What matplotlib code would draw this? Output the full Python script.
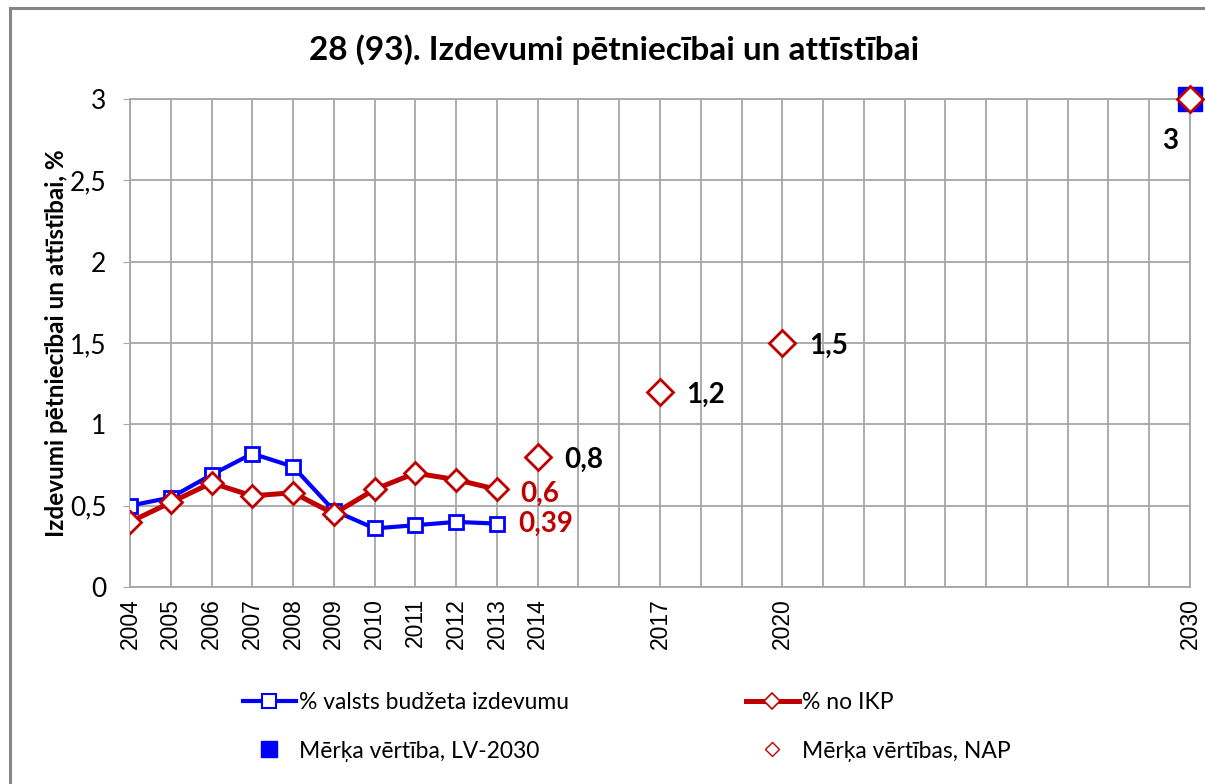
import matplotlib.pyplot as plt
from matplotlib.lines import Line2D
from matplotlib.patches import Rectangle

# data
years = list(range(2004, 2031))
shown_years = [2004, 2005, 2006, 2007, 2008, 2009, 2010, 2011, 2012, 2013, 2014, 2017, 2020, 2030]
hist_years = [2004, 2005, 2006, 2007, 2008, 2009, 2010, 2011, 2012, 2013]
budget_share = [0.50, 0.55, 0.69, 0.82, 0.74, 0.47, 0.36, 0.38, 0.40, 0.39]
gdp_share = [0.40, 0.52, 0.64, 0.56, 0.58, 0.45, 0.60, 0.70, 0.66, 0.60]
nap_years = [2014, 2017, 2020, 2030]
nap_targets = [0.8, 1.2, 1.5, 3]
lv_years = [2030]
lv_targets = [3]

title = "28 (93). Izdevumi pētniecībai un attīstībai"
ylabel = "Izdevumi pētniecībai un attīstībai, %"

BLUE = "#0000ff"
RED = "#c00000"
GRID = "#a6a6a6"
CAL = "Lato"

def pos(yrs):
    return [y - years[0] for y in yrs]

def fmt(v):
    return ("%g" % v).replace(".", ",")

fig = plt.figure(figsize=(12.05, 7.84), dpi=100)
ax = fig.add_axes([130 / 1205, 1 - 587 / 784, 1060 / 1205, 488 / 784])

# outer frame of the chart
fig.patches.append(Rectangle((10 / 1205, -0.05), 1.1, 1 - 8 / 784 + 0.05, transform=fig.transFigure,
                             fill=False, edgecolor="#868686", linewidth=2.2))

ax.plot(pos(hist_years), budget_share, color=BLUE, lw=3, marker="s", ms=10,
        mfc="white", mec=BLUE, mew=2, zorder=3)
ax.plot(pos(hist_years), gdp_share, color=RED, lw=3.6, marker="D", ms=11,
        mfc="white", mec=RED, mew=2, zorder=4)
ax.plot(pos(lv_years), lv_targets, ls="none", marker="s", ms=17, color=BLUE,
        clip_on=False, zorder=5)
ax.plot(pos(nap_years), nap_targets, ls="none", marker="D", ms=13, mfc="white",
        mec=RED, mew=2, clip_on=False, zorder=6)

# data labels
lab = dict(textcoords="offset points", fontsize=20, fontweight="bold", family=CAL, va="center")
ax.annotate(fmt(gdp_share[-1]), (pos(hist_years)[-1], gdp_share[-1]), xytext=(17, -3),
            color=RED, ha="left", **lab)
ax.annotate(fmt(budget_share[-1]), (pos(hist_years)[-1], budget_share[-1]), xytext=(15, 0),
            color=RED, ha="left", **lab)
for yr, v in zip(nap_years[:-1], nap_targets[:-1]):
    ax.annotate(fmt(v), (pos([yr])[0], v), xytext=(19, -2), color="black", ha="left", **lab)
ax.annotate(fmt(nap_targets[-1]), (pos(nap_years)[-1], nap_targets[-1]), xytext=(-14, -30),
            color="black", ha="center", **lab)

ax.set_xlim(0, len(years) - 1)
ax.set_ylim(0, 3)
ax.set_xticks(range(len(years)))
ax.set_xticklabels([str(y) if y in shown_years else "" for y in years],
                   rotation=90, family="Liberation Sans", fontsize=16.5)
ax.set_yticks([0, 0.5, 1, 1.5, 2, 2.5, 3])
ax.set_yticklabels([fmt(v) for v in [0, 0.5, 1, 1.5, 2, 2.5, 3]], family=CAL, fontsize=19)
ax.tick_params(axis="x", length=0, pad=8)
ax.tick_params(axis="y", length=5, color=GRID, pad=12)
ax.grid(True, color=GRID, lw=1.3)
ax.set_axisbelow(True)
for s in ax.spines.values():
    s.set_color(GRID)
    s.set_linewidth(1.3)

ax.set_ylabel(ylabel, family=CAL, fontsize=17.5, fontweight="bold")
ax.yaxis.set_label_coords((68 - 130) / 1060, 0.5)
fig.text(614 / 1205, 1 - 50 / 784, title, family=CAL, fontsize=24, fontweight="bold",
         ha="center", va="center")

# legend, two columns
h1 = [Line2D([], [], color=BLUE, lw=3, marker="s", ms=10, mfc="white", mec=BLUE, mew=1.5),
      Line2D([], [], ls="none", marker="s", ms=12, color=BLUE)]
h2 = [Line2D([], [], color=RED, lw=3.6, marker="D", ms=8, mfc="white", mec=RED, mew=1.2),
      Line2D([], [], ls="none", marker="D", ms=7, mfc="white", mec=RED, mew=1)]
leg_kw = dict(frameon=False, handlelength=2.3, handletextpad=0.15, labelspacing=1.2,
              prop={"family": CAL, "size": 16.5}, loc="upper left", borderaxespad=0, borderpad=0)
fig.legend(h1, ["% valsts budžeta izdevumu", "Mērķa vērtība, LV-2030"],
           bbox_to_anchor=(243 / 1205, 1 - 692 / 784), **leg_kw)
fig.legend(h2, ["% no IKP", "Mērķa vērtības, NAP"],
           bbox_to_anchor=(746 / 1205, 1 - 692 / 784), **leg_kw)

fig.savefig("out.png", dpi=100)
